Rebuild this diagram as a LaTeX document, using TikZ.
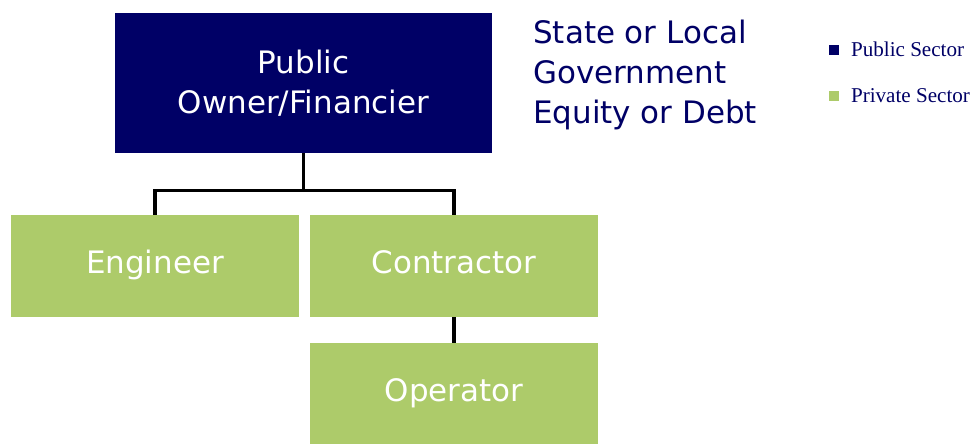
\documentclass[tikz,border=0pt]{standalone}
\usepackage{fontspec}
\usepackage{tikz}
\usetikzlibrary{calc}
\usetikzlibrary{positioning}
\newfontfamily\chartfont{DejaVu Sans}
\newfontfamily\legendfont{Liberation Serif}
\definecolor{publicNavy}{RGB}{0,0,102}
\definecolor{privateGreen}{RGB}{173,203,106}

\begin{document}
\begin{tikzpicture}[x=0.025cm, y=-0.025cm,
	publicBox/.style = {fill = publicNavy, text = white, minimum width = 9.425cm, minimum height = 3.5cm, align = center, font = \chartfont\fontsize{22}{28.45}\selectfont},
	privateBox/.style = {fill = privateGreen, text = white, minimum width = 7.2cm, minimum height = 2.55cm, text height = 16pt, text depth = 5pt, font = \chartfont\fontsize{22}{28.45}\selectfont},
	link/.style = {line width = 2.2pt},
	legendSquare/.style = {minimum size = 0.25cm, inner sep = 0pt}
	]

	% frame of the picture
	\useasboundingbox (0,0) rectangle (976,443);

	% public owner
	\node [publicBox] (owner) at (303.5,83) {Public\\Owner/Financier};

	% private sector boxes
	\node [privateBox] (engineer) at (155,266) {Engineer};
	\node [privateBox] (contractor) at (454,266) {Contractor};
	\node [privateBox, minimum height = 2.5cm] (operator) at (454,393.5) {Operator};

	% connectors
	\coordinate (branch) at ($(owner.south) + (0,37)$);
	\draw [link] (owner.south) -- (branch);
	\draw [link] (branch) -| (engineer.north);
	\draw [link] (branch) -| (contractor.north);
	\draw [link] (contractor.south) -- (operator.north);

	% funding note
	\node [anchor = north west, align = left, inner sep = 0pt, text = publicNavy, font = \chartfont\fontsize{22}{28.45}\selectfont] (funding) at (533,20) {State or Local\\Government\\Equity or Debt};

	% legend
	\node [legendSquare, fill = publicNavy] (publicKey) at (833.5,49.5) {};
	\node [legendSquare, fill = privateGreen] (privateKey) at (833.5,95.5) {};
	\node [right = 0.3cm of publicKey, inner sep = 0pt, text = publicNavy, font = \legendfont\fontsize{15}{18}\selectfont] (publicLabel) {Public Sector};
	\node [right = 0.3cm of privateKey, inner sep = 0pt, text = publicNavy, font = \legendfont\fontsize{15}{18}\selectfont] (privateLabel) {Private Sector};

\end{tikzpicture}
\end{document}
